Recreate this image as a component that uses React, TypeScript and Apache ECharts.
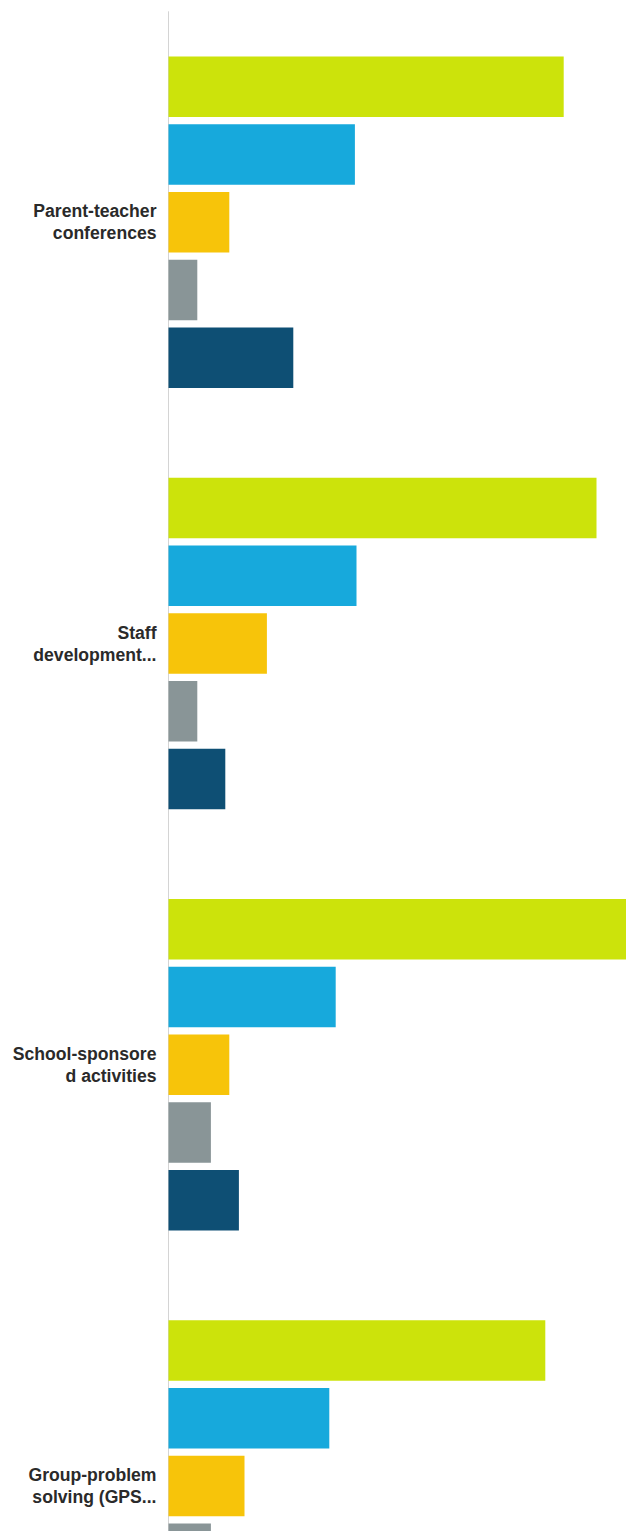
import React, { useEffect, useRef } from "react";
import * as echarts from "echarts";

const categories = [
  "Parent-teacher\nconferences",
  "Staff\ndevelopment...",
  "School-sponsore\nd activities",
  "Group-problem\nsolving (GPS...",
];

const seriesNames = ["Response 1", "Response 2", "Response 3", "Response 4", "Response 5"];
const seriesColors = ["#cce30b", "#17a9dc", "#f7c40a", "#899597", "#0e4f74"];

const values1 = [49.4, 53.5, 57.4, 47.1];
const values2 = [23.3, 23.5, 20.9, 20.1];
const values3 = [7.6, 12.3, 7.6, 9.5];
const values4 = [3.6, 3.6, 5.3, 5.3];
const values5 = [15.6, 7.1, 8.8, 18.0];

const allValues = [values1, values2, values3, values4, values5];

export default function App() {
  const ref = useRef<HTMLDivElement>(null);
  useEffect(() => {
    if (!ref.current) return;
    const chart = echarts.init(ref.current, null, { renderer: "svg" });
    chart.setOption({
      animation: false,
      backgroundColor: "#ffffff",
      grid: { left: 168.5, top: 11.7, width: 800, height: 1685, containLabel: false },
      xAxis: {
        type: "value",
        min: 0,
        max: 100,
        show: false,
        splitLine: { show: false },
      },
      yAxis: {
        type: "category",
        inverse: true,
        data: categories,
        axisTick: { show: false },
        axisLine: { show: true, lineStyle: { color: "#d4d4d4", width: 1 } },
        axisLabel: {
          margin: 12,
          align: "right",
          fontFamily: "Liberation Sans, Arial, sans-serif",
          fontWeight: "bold",
          fontSize: 17.6,
          lineHeight: 22,
          color: "#2a2a2a",
        },
      },
      series: allValues.map((vals, i) => ({
        type: "bar",
        name: seriesNames[i],
        data: vals,
        barWidth: 60.5,
        barGap: "12%",
        itemStyle: { color: seriesColors[i] },
      })),
    });
    return () => chart.dispose();
  }, []);
  return (
    <div
      style={{
        position: "fixed",
        left: 0,
        top: 0,
        width: 626,
        height: 1531,
        overflow: "hidden",
        background: "#ffffff",
      }}
    >
      <div ref={ref} style={{ width: 1000, height: 1720 }} />
    </div>
  );
}
